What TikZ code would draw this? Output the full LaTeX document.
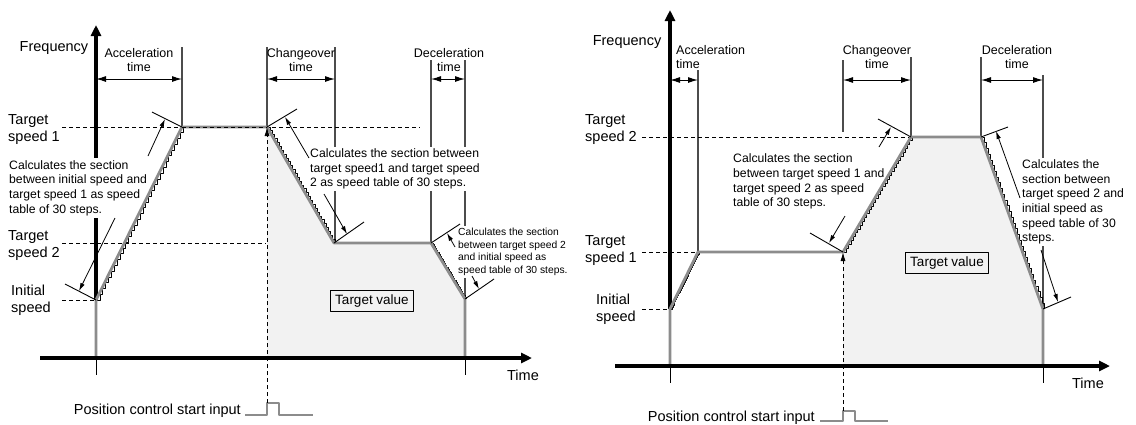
\documentclass[tikz,border=0pt]{standalone}
\usepackage{fontspec}
\setmainfont{Liberation Sans}
\usetikzlibrary{arrows.meta,calc}
\providecommand{\spdProfileColor}{black!45}
\providecommand{\spdAreaColor}{black!5}
\providecommand{\spdDimColor}{black!70}
\providecommand{\spdAxisWidth}{3.5pt}
\providecommand{\spdProfileWidth}{2.8pt}
\newcommand{\labelfont}{\fontsize{14.5}{17}\selectfont}
\newcommand{\headfont}{\fontsize{12.5}{14.5}\selectfont}
\newcommand{\notefont}{\fontsize{12.2}{14.7}\selectfont}
\newcommand{\smallnotefont}{\fontsize{10.3}{12.5}\selectfont}
% 30-step speed table drawn as a staircase between two corners,
% set a little to the right of the gray profile line
\newcommand{\speedsteps}[2]{%
  \foreach \k [evaluate=\k as \fa using (\k-1)/30, evaluate=\k as \fb using \k/30] in {1,...,30}
    \draw[stairline] ($(#1)!\fa!(#2)+(1.1,0)$) -| ($(#1)!\fb!(#2)+(1.1,0)$);%
}
\tikzset{
  axisline/.style={line width=\spdAxisWidth, -{Triangle[length=11pt,width=10pt]}},
  profileline/.style={draw=\spdProfileColor, line width=\spdProfileWidth},
  stairline/.style={line width=0.8pt},
  dimline/.style={draw=\spdDimColor, line width=1.2pt},
  dimarrow/.style={line width=1pt, {Latex[length=10pt,width=6pt]}-{Latex[length=10pt,width=6pt]}},
  levelline/.style={dash pattern=on 4pt off 3pt, line width=0.9pt},
  tickline/.style={line width=0.9pt},
  calloutarrow/.style={line width=0.8pt, -{Latex[length=8pt,width=4.5pt]}},
  startline/.style={dash pattern=on 4pt off 3pt, line width=0.9pt, -{Latex[length=9pt,width=5pt]}},
  pulseline/.style={draw=\spdProfileColor, line width=2pt},
  levellabel/.style={font=\labelfont, align=left, anchor=west, inner sep=0pt},
  axislabel/.style={font=\labelfont, inner sep=0pt},
  headtext/.style={font=\headfont, align=center, inner sep=0pt},
  notetext/.style={font=\notefont, align=left, anchor=west, fill=white, inner sep=2pt},
  smallnotetext/.style={font=\smallnotefont, align=left, anchor=west, fill=white, inner sep=2pt},
  targetbox/.style={draw, line width=0.9pt, font=\fontsize{13.5}{15}\selectfont, inner xsep=4.5pt, inner ysep=4pt},
}
\begin{document}
\begin{tikzpicture}[x=1pt, y=-1pt, line join=round]
\useasboundingbox (0,0) rectangle (1136,424);
% ================= Left: target speed 1 then lower target speed 2 =================
\coordinate (P0) at (96,358);
\coordinate (P1) at (96,300);
\coordinate (P2) at (182,127);
\coordinate (P3) at (267,127);
\coordinate (P4) at (334,243);
\coordinate (P5) at (431,243);
\coordinate (P6) at (465,299);
\coordinate (P7) at (465,358);
% Time borders
\draw[dimline] (182,47) -- (P2);
\draw[dimline] (267,47) -- (P3);
\draw[dimline] (335,47) -- (335,243);
\draw[dimline] (431,60) -- (P5);
\draw[dimline] (465,60) -- (P6);
% Speed levels
\draw[levelline] (62,127) -- (420,127);
\draw[levelline] (62,243) -- (266,243);
\draw[levelline] (62,300) -- (P1);
\draw[axisline] (P1) -- (96,25);
% Notes (their background breaks the lines behind them)
\node[notetext] (lnote1) at (7,188) {Calculates the section\\between initial speed and\\target speed 1 as speed\\table of 30 steps.};
\node[notetext] (lnote2) at (308,169) {Calculates the section between\\target speed1 and target speed\\2 as speed table of 30 steps.};
\node[smallnotetext] (lnote3) at (456,252) {Calculates the section\\between target speed 2\\and initial speed as\\speed table of 30 steps.};
% Target value area
\fill[\spdAreaColor] (P3) -- (P4) -- (P5) -- (P6) -- (P7) -- (267,358) -- cycle;
% Profile
\speedsteps{P1}{P2}
\speedsteps{P3}{P4}
\speedsteps{P5}{P6}
\draw[profileline] (P0) -- (P1) -- (P2) -- (P3) -- (P4) -- (P5) -- (P6) -- (P7);
\draw[levelline] (182,127) -- (267,127);
% Time axis
\draw[axisline] (40,358) -- (532,358);
\draw[tickline] (P0) -- (96,375);
\draw[tickline] (P7) -- (465,375);
% Start input
\coordinate (Lpulse) at (267,403);
\draw[pulseline] (245,415) -- (267,415) -- (Lpulse) -- (279,403) -- (279,415) -- (313,415);
\draw[startline] (Lpulse) -- (P3);
% Section ticks
\coordinate (la1) at (152,112);
\coordinate (la2) at (65,284);
\coordinate (lc1) at (297,109);
\coordinate (lc2) at (364,222);
\coordinate (ld1) at (460,224);
\coordinate (ld2) at (494,279);
\draw[tickline] (P2) -- (la1);
\draw[tickline] (P1) -- (la2);
\draw[tickline] (P3) -- (lc1);
\draw[tickline] (P4) -- (lc2);
\draw[tickline] (P5) -- (ld1);
\draw[tickline] (P6) -- (ld2);
\draw[calloutarrow] (148,156) -- (165,119);
\draw[calloutarrow] (115,218) -- (79,291);
\draw[calloutarrow] (309,158) -- (285,117);
\draw[calloutarrow] (324,194) -- (347,234);
\draw[calloutarrow] (455,247) -- (447,233);
\draw[calloutarrow] (472,276) -- (479,289);
% Labels
\node[axislabel] (lfreq) at (54,48) {Frequency};
\node[axislabel] (ltime) at (523,375) {Time};
\node[levellabel] (ltgt1) at (8,129.5) {Target\\speed 1};
\node[levellabel] (ltgt2) at (8,245.5) {Target\\speed 2};
\node[levellabel] (linit) at (11,300.5) {Initial\\speed};
\node[axislabel, anchor=east] (lstart) at (241,411) {Position control start input};
\node[targetbox] (lvalue) at (372,301) {Target value};
% Time spans
\draw[dimarrow] (96,79) -- (182,79);
\draw[dimarrow] (267,79) -- (335,79);
\draw[dimarrow] (431,79) -- (465,79);
\node[headtext] (lacc) at (139,60) {Acceleration\\time};
\node[headtext] (lchg) at (301,60) {Changeover\\time};
\node[headtext] (ldec) at (449,60) {Deceleration\\time};
% ================= Right: target speed 1 then higher target speed 2 =================
\coordinate (Q0) at (670,366);
\coordinate (Q1) at (670,309);
\coordinate (Q2) at (698,252);
\coordinate (Q3) at (843,252);
\coordinate (Q4) at (911,137);
\coordinate (Q5) at (981,137);
\coordinate (Q6) at (1043,309);
\coordinate (Q7) at (1043,366);
% Time borders
\draw[dimline] (698,70) -- (Q2);
\draw[dimline] (843,60) -- (843,132);
\draw[dimline] (911,57) -- (Q4);
\draw[dimline] (981,57) -- (Q5);
\draw[dimline] (1043,75) -- (Q6);
% Speed levels
\draw[levelline] (642,137) -- (910,137);
\draw[levelline] (642,252) -- (Q2);
\draw[levelline] (642,309) -- (Q1);
\draw[axisline] (Q1) -- (670,10);
% Notes
\node[notetext] (rnote1) at (731,181.5) {Calculates the section\\between target speed 1 and\\target speed 2 as speed\\table of 30 steps.};
\node[notetext] (rnote2) at (1020,202) {Calculates the\\section between\\target speed 2 and\\initial speed as\\speed table of 30\\steps.};
% Target value area
\fill[\spdAreaColor] (Q3) -- (Q4) -- (Q5) -- (Q6) -- (Q7) -- (843,366) -- cycle;
% Profile
\speedsteps{Q1}{Q2}
\speedsteps{Q3}{Q4}
\speedsteps{Q5}{Q6}
\draw[profileline] (Q0) -- (Q1) -- (Q2) -- (Q3) -- (Q4) -- (Q5) -- (Q6) -- (Q7);
% Time axis
\draw[axisline] (615,366) -- (1110,366);
\draw[tickline] (Q0) -- (670,383);
\draw[tickline] (Q7) -- (1043,383);
% Start input
\coordinate (Rpulse) at (843,411);
\draw[pulseline] (820,421) -- (843,421) -- (Rpulse) -- (855,411) -- (855,421) -- (888,421);
\draw[startline] (Rpulse) -- (Q3);
% Section ticks
\coordinate (rc1) at (878,119);
\coordinate (rc2) at (810,233);
\coordinate (rd1) at (1008,127);
\coordinate (rd2) at (1071,297);
\draw[tickline] (Q4) -- (rc1);
\draw[tickline] (Q3) -- (rc2);
\draw[tickline] (Q5) -- (rd1);
\draw[tickline] (Q6) -- (rd2);
\draw[calloutarrow] (879,147) -- (891,127);
\draw[calloutarrow] (845,216) -- (829,243);
\draw[calloutarrow] (1020,198) -- (996,131);
\draw[calloutarrow] (1041,250) -- (1058,302);
% Labels
\node[axislabel] (rfreq) at (627,42) {Frequency};
\node[axislabel] (rtime) at (1088,383) {Time};
\node[levellabel] (rtgt2) at (585,129.5) {Target\\speed 2};
\node[levellabel] (rtgt1) at (585,251) {Target\\speed 1};
\node[levellabel] (rinit) at (596,309.5) {Initial\\speed};
\node[axislabel, anchor=east] (rstart) at (815,418) {Position control start input};
\node[targetbox] (rvalue) at (947,263) {Target value};
% Time spans
\draw[dimarrow] (670,80) -- (698,80);
\draw[dimarrow] (843,80) -- (911,80);
\draw[dimarrow] (981,80) -- (1043,80);
\node[headtext, align=left, anchor=west] (racc) at (676,57) {Acceleration\\time};
\node[headtext] (rchg) at (877,57) {Changeover\\time};
\node[headtext] (rdec) at (1017,57) {Deceleration\\time};
\end{tikzpicture}
\end{document}
